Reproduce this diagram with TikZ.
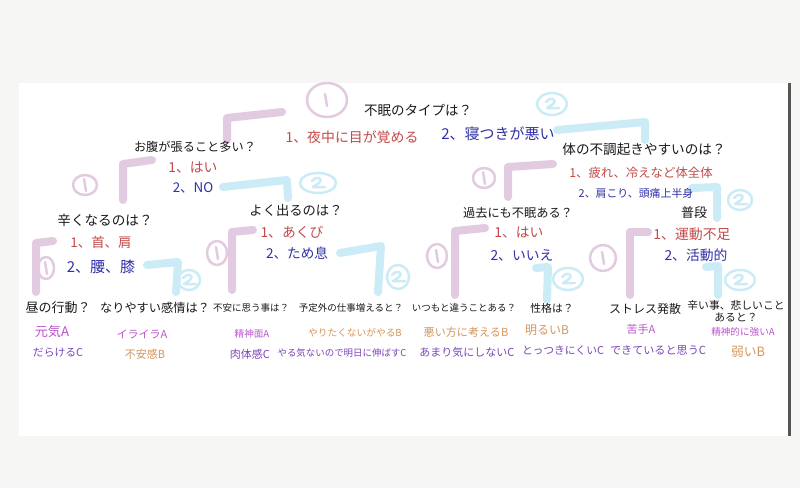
\documentclass[tikz,border=0pt]{standalone}
\usepackage{fontspec}
\setmainfont{Noto Sans CJK JP}
\definecolor{bgc}{HTML}{F6F6F4}
\definecolor{barc}{HTML}{555555}
\definecolor{pinkc}{HTML}{E2CBE0}
\definecolor{bluec}{HTML}{CBECF6}
\definecolor{qc}{HTML}{1A1A1A}
\definecolor{rc}{HTML}{C44A4A}
\definecolor{bc}{HTML}{3030A8}
\definecolor{ac}{HTML}{BB55CC}
\definecolor{oc}{HTML}{D4955A}
\definecolor{cc}{HTML}{7B45B8}
\tikzset{
  fz/.style={font=\fontsize{#1}{#1}\selectfont},
  tx/.style={inner sep=0pt, anchor=center},
  qq/.style={tx, text=qc},
  ra/.style={tx, text=rc},
  ba/.style={tx, text=bc},
  va/.style={tx, text=ac},
  vb/.style={tx, text=oc},
  vc/.style={tx, text=cc},
  pk/.style={draw=pinkc, line width=8pt, line cap=round, line join=round},
  bl/.style={draw=bluec, line width=8pt, line cap=round, line join=round},
  pkc/.style={draw=pinkc, line width=2.5pt, line cap=round, line join=round},
  blc/.style={draw=bluec, line width=2.5pt, line cap=round, line join=round},
  cone/.pic={\draw[pkc] (-1,-6) -- (1,6);},
  ctwo/.pic={\draw[blc] (-6,-2) .. controls (-3,-7) and (6,-6) .. (1,0) -- (-5,4) -- (7,4);}
}
\begin{document}
\begin{tikzpicture}[x=1pt,y=-1pt]
\useasboundingbox (0,0) rectangle (800,488);
\fill[bgc] (0,0) rectangle (800,488);
\fill[white] (19,83) rectangle (788,436);
\fill[barc] (788,83) rectangle (790.5,436);

% pink strokes (branch 1)
\draw[pk] (227,140) -- (227,118) -- (282,112);
\draw[pkc] (327,100) ellipse [x radius=20pt, y radius=17pt];
\pic at (326,100) {cone};
\draw[pk] (123,200) -- (123,164) -- (152,160);
\draw[pkc] (85,185) ellipse [x radius=12pt, y radius=10pt];
\pic at (85,185) {cone};
\draw[pk] (36,292) -- (36,243) -- (53,241);
\draw[pkc] (46,268) ellipse [x radius=8pt, y radius=11pt];
\pic at (46,268) {cone};
\draw[pk] (232,290) -- (232,232) -- (253,230);
\draw[pkc] (217,253) ellipse [x radius=10pt, y radius=12pt];
\pic at (217,253) {cone};
\draw[pk] (508,197) -- (508,167) -- (553,164);
\draw[pkc] (484,178) ellipse [x radius=11pt, y radius=10pt];
\pic at (484,178) {cone};
\draw[pk] (455,295) -- (455,231) -- (485,228);
\draw[pkc] (437,256) ellipse [x radius=10pt, y radius=12pt];
\pic at (437,256) {cone};
\draw[pk] (630,295) -- (630,232) -- (648,232);
\draw[pkc] (603,258) ellipse [x radius=13pt, y radius=13pt];
\pic at (603,258) {cone};

% blue strokes (branch 2)
\draw[bl] (557,130) -- (645,122) -- (645,140);
\draw[blc] (552,104) ellipse [x radius=15pt, y radius=11pt];
\pic at (552,104) {ctwo};
\draw[bl] (223,187) -- (287,180) -- (288,198);
\draw[blc] (318,183) ellipse [x radius=18pt, y radius=10pt];
\pic at (318,183) {ctwo};
\draw[bl] (692,188) -- (717,187) -- (717,218);
\draw[blc] (740,200) ellipse [x radius=12pt, y radius=10pt];
\pic at (740,200) {ctwo};
\draw[bl] (147,265) -- (178,262) -- (176,292);
\draw[blc] (189,280) ellipse [x radius=11pt, y radius=10pt];
\pic at (189,280) {ctwo};
\draw[bl] (340,253) -- (381,246) -- (378,292);
\draw[blc] (398,277) ellipse [x radius=11pt, y radius=12pt];
\pic at (398,277) {ctwo};
\draw[bl] (536,268) -- (548,267) -- (547,300);
\draw[blc] (568,279) ellipse [x radius=15pt, y radius=11pt];
\pic at (568,279) {ctwo};
\draw[bl] (706,267) -- (718,266) -- (718,295);
\draw[blc] (740,280) ellipse [x radius=15pt, y radius=10pt];
\pic at (740,280) {ctwo};

% questions and answers
\node[qq, fz=13.5] (q0) at (418,110) {不眠のタイプは？};
\node[ra, fz=13.9] (q0a) at (352,137) {1、夜中に目が覚める};
\node[ba, fz=15] (q0b) at (498,134) {2、寝つきが悪い};

\node[qq, fz=12.2] (q1) at (195,147) {お腹が張ること多い？};
\node[ra, fz=13.8] (q1a) at (193,168) {1、はい};
\node[ba, fz=13.4] (q1b) at (193,188) {2、NO};

\node[qq, fz=13.6] (q2) at (644,149) {体の不調起きやすいのは？};
\node[ra, fz=12.4] (q2a) at (641,173) {1、疲れ、冷えなど体全体};
\node[ba, fz=10.9] (q2b) at (636,193) {2、肩こり、頭痛上半身};

\node[qq, fz=13.6] (q3) at (105,220) {辛くなるのは？};
\node[ra, fz=13.4] (q3a) at (101,242) {1、首、肩};
\node[ba, fz=15] (q3b) at (101,267) {2、腰、膝};

\node[qq, fz=13.3] (q4) at (296,210) {よく出るのは？};
\node[ra, fz=13.8] (q4a) at (292,232) {1、あくび};
\node[ba, fz=13.6] (q4b) at (297,253) {2、ため息};

\node[qq, fz=12.2] (q5) at (518,213) {過去にも不眠ある？};
\node[ra, fz=13.8] (q5a) at (519,233) {1、はい};
\node[ba, fz=13.8] (q5b) at (522,255) {2、いいえ};

\node[qq, fz=13] (q6) at (694,213) {普段};
\node[ra, fz=13.9] (q6a) at (692,234) {1、運動不足};
\node[ba, fz=13.8] (q6b) at (696,255) {2、活動的};

% bottom row
\node[qq, fz=13] (l1) at (58,308) {昼の行動？};
\node[qq, fz=12.2] (l2) at (155,308) {なりやすい感情は？};
\node[qq, fz=9.5] (l3) at (251,308) {不安に思う事は？};
\node[qq, fz=9.5] (l4) at (351,308) {予定外の仕事増えると？};
\node[qq, fz=9.5] (l5) at (464,308) {いつもと違うことある？};
\node[qq, fz=10.8] (l6) at (552,308) {性格は？};
\node[qq, fz=12] (l7) at (645,309) {ストレス発散};
\node[qq, align=center, font=\fontsize{10.8}{11.5}\selectfont] (l8) at (736,311) {辛い事、悲しいこと\\あると？};

\node[va, fz=13.2] (v1a) at (52,332) {元気A};
\node[vc, fz=10.8] (v1c) at (58,353) {だらけるC};
\node[va, fz=11] (v2a) at (142,334) {イライラA};
\node[vb, fz=11] (v2b) at (145,354) {不安感B};
\node[va, fz=9.6] (v3a) at (252,334) {精神面A};
\node[vc, fz=11] (v3c) at (250,354) {肉体感C};
\node[vb, fz=9.7] (v4b) at (355,333) {やりたくないがやるB};
\node[vc, fz=9.45] (v4c) at (342,353) {やる気ないので明日に伸ばすC};
\node[vb, fz=11.1] (v5b) at (466,332) {悪い方に考えるB};
\node[vc, fz=11] (v5c) at (467,352) {あまり気にしないC};
\node[vb, fz=12] (v6b) at (547,330) {明るいB};
\node[vc, fz=10.8] (v6c) at (563,351) {とっつきにくいC};
\node[va, fz=11] (v7a) at (641,329) {苦手A};
\node[vc, fz=11.1] (v7c) at (658,350) {できていると思うC};
\node[va, fz=9.6] (v8a) at (743,332) {精神的に強いA};
\node[vb, fz=12.8] (v8b) at (748,352) {弱いB};
\end{tikzpicture}
\end{document}
